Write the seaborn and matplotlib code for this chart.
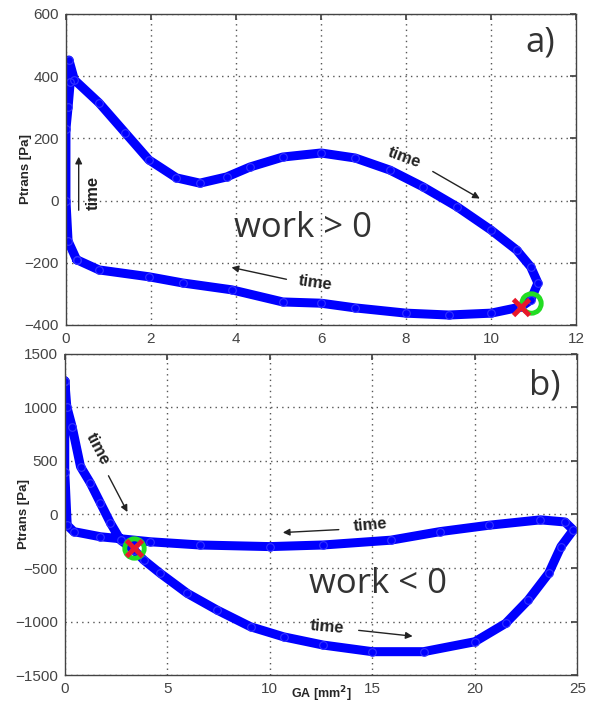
import matplotlib
matplotlib.use("Agg")
import matplotlib.pyplot as plt
import seaborn as sns

# panel a) - loop with positive work (GA in mm^2, Ptrans in Pa), in time order
ga_a = [0.25, 0.05, 0.0, 0.0, 0.05, 0.1, 0.07, 0.2, 0.78, 1.4, 1.95, 2.6, 3.15,
        3.78, 4.33, 5.1, 6.0, 6.8, 7.62, 8.4, 9.2, 10.0, 10.6, 10.93, 11.1,
        10.93, 10.7, 10.0, 9.0, 8.0, 6.8, 6.0, 5.1, 3.9, 2.75, 1.95, 0.78, 0.25]
p_a = [-190, -130, 0, 230, 300, 380, 452, 388, 314, 217, 131, 73, 56,
       76, 108, 140, 153, 137, 98, 44, -20, -95, -159, -213, -265,
       -320, -342, -362, -368, -362, -345, -330, -326, -287, -265, -245, -223, -190]

# panel b) - loop with negative work
ga_b = [0.0, 0.1, 0.36, 0.77, 1.25, 1.74, 2.23, 2.72, 3.37, 3.85, 4.66, 5.97,
        7.43, 9.06, 10.67, 12.6, 15.0, 17.5, 20.0, 21.5, 22.6, 23.6, 24.2, 24.8,
        24.4, 23.2, 20.7, 18.3, 15.9, 12.6, 10.0, 6.6, 4.18, 1.74, 0.44, 0.12,
        0.0, 0.0]
p_b = [1250, 1008, 820, 447, 294, 107, -80, -240, -330, -425, -550, -736,
       -893, -1049, -1143, -1220, -1282, -1282, -1189, -1018, -800, -550, -300, -145,
       -70, -50, -100, -160, -240, -285, -300, -285, -255, -208, -160, -100,
       400, 1250]

# start / end markers
start_a = (10.93, -330)
end_a = (10.7, -342)
start_b = (3.37, -316)
end_b = (3.37, -316)

sns.set_theme(style="white")
plt.rcParams['font.family'] = ['Liberation Sans', 'DejaVu Sans']

fig = plt.figure(figsize=(5.94, 7.06), dpi=100)
ax1 = fig.add_axes([0.111, 0.5397, 0.859, 0.4405])
ax2 = fig.add_axes([0.109, 0.0439, 0.863, 0.4547])

line_kw = dict(sort=False, estimator=None, color='#0000ff', lw=6.5, marker='o',
               markersize=5.5, markerfacecolor='none', markeredgecolor='#3333ff',
               markeredgewidth=0.8)

sns.lineplot(x=ga_a, y=p_a, ax=ax1, **line_kw)
sns.lineplot(x=ga_b, y=p_b, ax=ax2, **line_kw)

for ax, s, e in [(ax1, start_a, end_a), (ax2, start_b, end_b)]:
    ax.plot(*s, 'o', ms=14, mfc='none', mec='#22dd22', mew=3.5, zorder=5)
    ax.plot(*e, 'x', ms=12, mec='#e8182a', mew=3.5, zorder=6)

ax1.set_xlim(0, 12)
ax1.set_ylim(-400, 600)
ax1.set_xticks(range(0, 13, 2))
ax1.set_yticks(range(-400, 601, 200))
ax2.set_xlim(0, 25)
ax2.set_ylim(-1500, 1500)
ax2.set_xticks(range(0, 26, 5))
ax2.set_yticks(range(-1500, 1501, 500))

for ax in (ax1, ax2):
    ax.grid(True, linestyle=(0, (1, 3)), color='#555555', lw=1)
    ax.tick_params(direction='in', length=4, top=True, right=True,
                   labelsize=11, labelcolor='#444444', color='#444444', pad=5)
    for sp in ax.spines.values():
        sp.set_color('#444444')
        sp.set_linewidth(1)
    ax.set_ylabel('Ptrans [Pa]', fontsize=9.5, fontweight='bold')
    ax.yaxis.set_label_coords(-0.067, 0.5)

ax2.set_xlabel('GA [mm$^\\mathbf{2}$]', fontsize=9, fontweight='bold')
ax2.xaxis.set_label_coords(0.5, -0.03)

txt = dict(fontsize=12, fontweight='bold', color='#222222', ha='center', va='center')
arr = dict(arrowstyle='-|>', color='#222222', lw=1, mutation_scale=10)
big = dict(fontsize=25, color='#333333', ha='center', va='center',
           family=['Open Sans', 'DejaVu Sans'])

# panel a annotations
ax1.text(0.64, 24, 'time', rotation=90, **txt)
ax1.annotate('', xy=(0.3, 150), xytext=(0.3, -40), arrowprops=arr)
ax1.text(7.97, 137, 'time', rotation=-20, **txt)
ax1.annotate('', xy=(9.79, 2), xytext=(8.57, 98), arrowprops=arr)
ax1.text(5.87, -265, 'time', rotation=-8, **txt)
ax1.annotate('', xy=(3.83, -213), xytext=(5.25, -255), arrowprops=arr)
ax1.text(5.57, -88, 'work > 0', **big)
ax1.text(11.15, 507, 'a)', **big)

# panel b annotations
ax2.text(1.6, 612, 'time', rotation=-62, **txt)
ax2.annotate('', xy=(3.12, 0), xytext=(2.07, 385), arrowprops=arr)
ax2.text(14.9, -98, 'time', rotation=5, **txt)
ax2.annotate('', xy=(10.5, -170), xytext=(13.5, -140), arrowprops=arr)
ax2.text(12.8, -1051, 'time', rotation=-5, **txt)
ax2.annotate('', xy=(17.1, -1140), xytext=(14.2, -1080), arrowprops=arr)
ax2.text(15.3, -650, 'work < 0', **big)
ax2.text(23.4, 1210, 'b)', **big)

fig.savefig('out.png', dpi=100)
